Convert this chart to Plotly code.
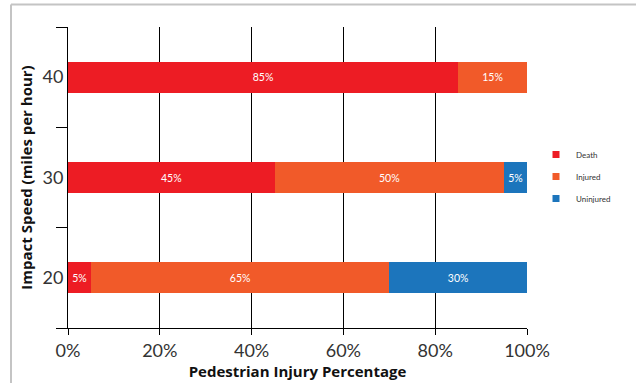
import plotly.graph_objects as go

speeds = ["20", "30", "40"]
death = [5, 45, 85]
injured = [65, 50, 15]
uninjured = [30, 5, 0]
series_names = ["Death", "Injured", "Uninjured"]
colors = ["#ED1C24", "#F15A29", "#1C75BC"]
x_ticks = [0, 20, 40, 60, 80, 100]
x_tick_labels = ["0%", "20%", "40%", "60%", "80%", "100%"]

W, H = 636, 383
L, R, T, B = 68, 109, 27, 55
pw, ph = W - L - R, H - T - B

def px_x(p):
    return (p - L) / pw

def px_y(p):
    return (H - B - p) / ph

fig = go.Figure()
for name, vals, col in zip(series_names, [death, injured, uninjured], colors):
    fig.add_trace(go.Bar(
        y=speeds, x=vals, orientation="h", name=name,
        marker=dict(color=col, line=dict(width=0)),
        text=[f"{v}%" if v > 0 else "" for v in vals],
        textposition="inside", insidetextanchor="middle", textangle=0,
        textfont=dict(family="Lato", size=10.5, color="white"),
        width=0.31, showlegend=False, hoverinfo="skip",
    ))
    fig.add_trace(go.Scatter(
        x=[None], y=[None], mode="markers", name=name, legendgroup=name,
        marker=dict(symbol="square", size=7, color=col),
        showlegend=True,
    ))

fig.update_layout(
    width=W, height=H, barmode="stack",
    margin=dict(l=L, r=R, t=T, b=B, autoexpand=False),
    paper_bgcolor="white", plot_bgcolor="white",
    font=dict(family="Lato", color="#333333"),
    uniformtext=dict(minsize=9, mode="show"),
    legend=dict(x=px_x(536), y=px_y(140), xanchor="left", yanchor="top",
                font=dict(size=8, color="#333333"), bgcolor="rgba(0,0,0,0)",
                itemwidth=30, traceorder="grouped", tracegroupgap=3),
    xaxis=dict(range=[0, 100], tickvals=x_ticks, ticktext=x_tick_labels,
               showgrid=True, gridcolor="#000000", gridwidth=1,
               showline=True, linecolor="#000000", linewidth=1,
               ticks="outside", ticklen=6, tickcolor="#000000",
               tickfont=dict(size=18, color="#333333"), zeroline=False,
               title=dict(text="<b>Pedestrian Injury Percentage</b>",
                          font=dict(family="Open Sans", size=15, color="#111111"), standoff=6)),
    yaxis=dict(type="category", range=[-0.5, 2.5], tickson="boundaries",
               showline=True, linecolor="#000000", linewidth=1,
               ticks="outside", ticklen=11, tickcolor="#000000",
               showgrid=False, tickfont=dict(size=18, color="#333333"),
               title=dict(text="<b>Impact Speed (miles per hour)</b>",
                          font=dict(family="Open Sans", size=15, color="#111111"), standoff=6)),
    shapes=[
        dict(type="line", xref="paper", yref="paper",
             x0=px_x(11), x1=px_x(636), y0=px_y(4.5), y1=px_y(4.5),
             line=dict(color="#c4c4c4", width=2)),
        dict(type="line", xref="paper", yref="paper",
             x0=px_x(11), x1=px_x(11), y0=px_y(4.5), y1=px_y(383),
             line=dict(color="#c4c4c4", width=2)),
    ],
)

fig.write_html("out.html")
